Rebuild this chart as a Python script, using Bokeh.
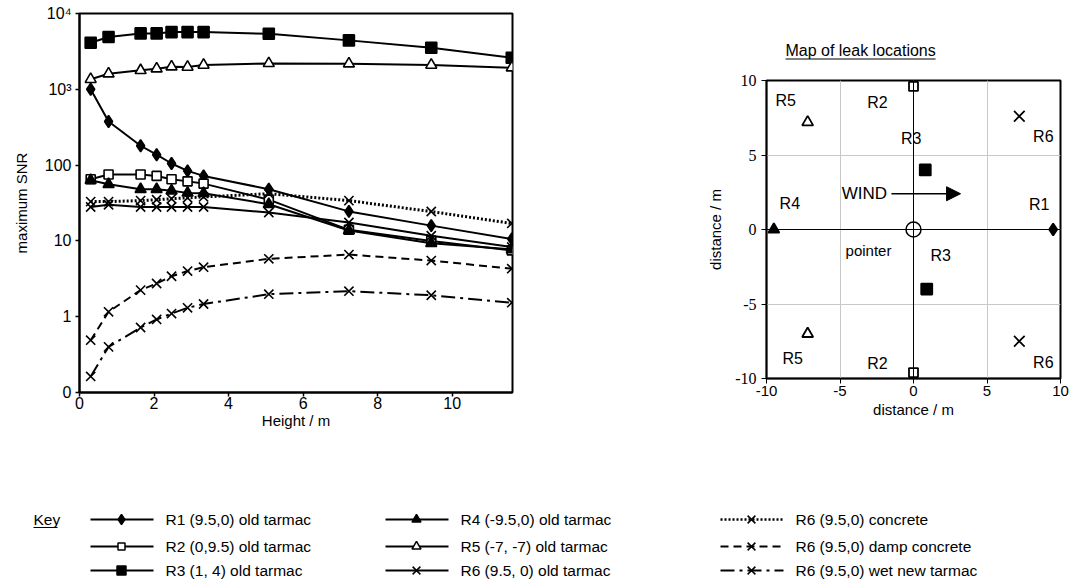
from bokeh.plotting import figure
from bokeh.layouts import row, column
from bokeh.models import Range1d, FixedTicker, Span, Arrow, NormalHead, ColumnDataSource
from bokeh.core.properties import value
from bokeh.embed import file_html
from bokeh.resources import INLINE

FONT = "Liberation Sans"
SERIF = "Liberation Serif"

# ---------------- data: left chart ----------------
height_m = [0.30, 0.78, 1.64, 2.07, 2.47, 2.90, 3.33, 5.08, 7.23, 9.44, 11.6]
r1_old = [1000, 376, 180, 137, 105, 84, 72, 48, 24.5, 15.9, 10.6]
r2_old = [65, 75, 75, 72, 65, 61, 57, 35, 14, 10, 7.5]
r3_old = [4110, 4890, 5460, 5460, 5680, 5680, 5680, 5400, 4420, 3535, 2610]
r4_old = [63, 56, 48, 48, 46, 43, 42.5, 30.5, 13.7, 9.3, 7.7]
r5_old = [1355, 1607, 1778, 1871, 1986, 1967, 2090, 2197, 2176, 2090, 1928]
r6_old = [28, 30, 28, 28, 28, 28, 28, 23.7, 17.5, 11.7, 8.3]
r6_concrete = [33, 33, 34, 35, 36, 37, 38, 42, 34, 24.4, 17]
r6_damp = [0.49, 1.16, 2.24, 2.74, 3.42, 4.0, 4.5, 5.8, 6.6, 5.5, 4.3]
r6_wet = [0.163, 0.40, 0.72, 0.92, 1.1, 1.31, 1.47, 1.98, 2.17, 1.92, 1.53]

x_ticks = [0, 2, 4, 6, 8, 10]
y_ticks = [0.1, 1, 10, 100, 1000, 10000]
y_tick_labels = ["0", "1", "10", "100", "10\u00b3", "10\u2074"]

series_labels = ["R1 (9.5,0) old tarmac", "R2 (0,9.5) old tarmac", "R3 (1, 4)  old tarmac",
                 "R4 (-9.5,0) old tarmac", "R5 (-7, -7)  old tarmac", "R6 (9.5, 0) old tarmac",
                 "R6 (9.5,0) concrete", "R6 (9.5,0) damp concrete", "R6 (9.5,0) wet new tarmac"]
series_values = [r1_old, r2_old, r3_old, r4_old, r5_old, r6_old, r6_concrete, r6_damp, r6_wet]

# ---------------- data: map ----------------
map_x = [9.5, 0, 0, 0.8, 0.9, -9.5, -7.2, -7.2, 7.2, 7.2]
map_y = [0, 9.6, -9.6, 4, -4.0, 0, 7.2, -7.0, 7.6, -7.5]
map_names = ["R1", "R2", "R2", "R3", "R3", "R4", "R5", "R5", "R6", "R6"]
map_ticks = [-10, -5, 0, 5, 10]
map_tick_labels = ["-10", "-5", "0", "5", "10"]

# ---------------- styles ----------------
styles = {
    "R1": dict(marker="diamond", fill="black", size=12),
    "R2": dict(marker="square", fill="white", size=9),
    "R3": dict(marker="square", fill="black", size=11),
    "R4": dict(marker="triangle", fill="black", size=11),
    "R5": dict(marker="triangle", fill="white", size=11),
    "R6": dict(marker="x", fill="black", size=13),
}
series_keys = ["R1", "R2", "R3", "R4", "R5", "R6", "R6", "R6", "R6"]
series_dash = ["solid"] * 6 + ["2 2", "8 5", "14 5 3 5"]
series_lw = [2] * 6 + [3, 2, 2]

# ---------------- left chart ----------------
p1 = figure(frame_width=433, frame_height=379, y_axis_type="log", output_backend="svg", title=None,
            toolbar_location=None, x_range=Range1d(0, 11.62), y_range=Range1d(0.1, 10000),
            min_border_left=79, min_border_right=8, min_border_top=13, min_border_bottom=40)
p1.outline_line_color = "black"
p1.outline_line_width = 2
p1.grid.visible = False
for ax in (p1.xaxis[0], p1.yaxis[0]):
    ax.axis_line_width = 2
    ax.major_tick_line_width = 1.5
    ax.major_tick_out = 4
    ax.major_tick_in = 0
    ax.minor_tick_line_color = None
    ax.major_label_text_font = FONT
    ax.major_label_text_font_size = "16px"
    ax.major_label_text_color = "black"
    ax.axis_label_text_font = FONT
    ax.axis_label_text_font_size = "15px"
    ax.axis_label_text_font_style = "normal"
    ax.axis_label_text_color = "black"
p1.xaxis.ticker = FixedTicker(ticks=x_ticks)
p1.yaxis.ticker = FixedTicker(ticks=y_ticks)
p1.yaxis.major_label_overrides = {t: l for t, l in zip(y_ticks, y_tick_labels)}
p1.xaxis.axis_label = "Height / m"
p1.yaxis.axis_label = "maximum SNR"
p1.xaxis.axis_label_standoff = 0
p1.yaxis.axis_label_standoff = 12
p1.xaxis.major_label_standoff = 0
p1.yaxis.major_label_standoff = 4

for key, vals, dash, lw in zip(series_keys, series_values, series_dash, series_lw):
    st = styles[key]
    src = ColumnDataSource(dict(x=height_m, y=vals))
    p1.line("x", "y", source=src, line_color="black", line_width=lw, line_dash=dash)
    p1.scatter("x", "y", source=src, marker=st["marker"], size=st["size"],
               fill_color=st["fill"], line_color="black", line_width=1.6)

# ---------------- map title (frame aligned with the map below) ----------------
p2t = figure(width=564, height=62, output_backend="svg", toolbar_location=None, title=None,
             x_range=Range1d(-10, 10), y_range=Range1d(62, 0),
             x_axis_location=None, y_axis_location=None, min_border=0)
p2t.outline_line_color = None
p2t.grid.visible = False
title_text = "Map of leak locations"
title_cx = -3.6
title_half = 5.1
p2t.text(x=[title_cx], y=[50], text=[title_text], text_font=value(FONT), text_font_size="16px",
         text_align="center", text_baseline="middle", text_color="black")
p2t.segment(x0=[title_cx - title_half], y0=[58.5], x1=[title_cx + title_half], y1=[58.5],
            line_color="black", line_width=1)

# ---------------- map ----------------
p2 = figure(frame_width=294, frame_height=298, output_backend="svg", toolbar_location=None, title=None,
            x_range=Range1d(-10, 10), y_range=Range1d(-10, 10),
            min_border_left=246, min_border_right=24, min_border_top=18, min_border_bottom=54)
p2.outline_line_color = "black"
p2.outline_line_width = 2
for ax in (p2.xaxis[0], p2.yaxis[0]):
    ax.ticker = FixedTicker(ticks=map_ticks)
    ax.major_label_overrides = {t: l for t, l in zip(map_ticks, map_tick_labels)}
    ax.axis_line_width = 1.5
    ax.major_tick_out = 5
    ax.major_tick_in = 0
    ax.minor_tick_line_color = None
    ax.major_label_text_font_size = "15px"
    ax.major_label_text_color = "black"
    ax.axis_label_text_font = FONT
    ax.axis_label_text_font_size = "15px"
    ax.axis_label_text_font_style = "normal"
    ax.axis_label_text_color = "black"
    ax.axis_label = "distance / m"
p2.xaxis.major_label_text_font = FONT
p2.yaxis.major_label_text_font = SERIF
p2.yaxis.major_label_text_font_size = "16px"
p2.xaxis.axis_label_standoff = 2
p2.yaxis.axis_label_standoff = 8
p2.xaxis.major_label_standoff = 2
p2.grid.ticker = FixedTicker(ticks=map_ticks)
p2.grid.grid_line_color = "#c8c8c8"
p2.grid.grid_line_width = 1
p2.add_layout(Span(location=0, dimension="width", line_color="black", line_width=1))
p2.add_layout(Span(location=0, dimension="height", line_color="black", line_width=1))

label_dx = {"R1": [-14], "R2": [-36, -36], "R3": [-14, 14], "R4": [16], "R5": [-22, -15], "R6": [24, 24]}
label_dy = {"R1": [-25], "R2": [16, -9], "R3": [-31, -34], "R4": [-26], "R5": [-22, 25], "R6": [20, 21]}
seen = {}
mdx, mdy = [], []
for n in map_names:
    i = seen.get(n, 0)
    seen[n] = i + 1
    mdx.append(label_dx[n][i])
    mdy.append(label_dy[n][i])
msrc = ColumnDataSource(dict(
    x=map_x, y=map_y, name=map_names,
    marker=[styles[n]["marker"] for n in map_names],
    fill=[styles[n]["fill"] for n in map_names],
    size=[styles[n]["size"] + (2 if n == "R6" else 0) for n in map_names],
    dx=mdx, dy=mdy))
p2.scatter("x", "y", source=msrc, marker="marker", size="size", fill_color="fill",
           line_color="black", line_width=1.8)
p2.text("x", "y", text="name", source=msrc, x_offset="dx", y_offset="dy",
        text_font=value(FONT), text_font_size="16px", text_align="center",
        text_baseline="middle", text_color="black")
# pointer
p2.scatter([0], [0], marker="circle", size=15, fill_color="white", line_color="black", line_width=1.5)
p2.text([0], [0], text=["pointer"], x_offset=-45, y_offset=21, text_font=value(FONT),
        text_font_size="15px", text_align="center", text_baseline="middle", text_color="black")
# wind
p2.text([-1.8], [2.4], text=["WIND"], text_font=value(FONT), text_font_size="17px",
        text_align="right", text_baseline="middle", text_color="black")
p2.add_layout(Arrow(x_start=-1.5, y_start=2.4, x_end=3.2, y_end=2.4, line_width=1.5,
                    end=NormalHead(size=14, fill_color="black", line_color="black")))

# ---------------- legend ----------------
p3 = figure(width=1084, height=149, output_backend="svg", toolbar_location=None, title=None,
            x_range=Range1d(0, 1084), y_range=Range1d(581, 432),
            x_axis_location=None, y_axis_location=None, min_border=0)
p3.outline_line_color = None
p3.grid.visible = False
col_x = [90, 385, 720]
row_y = [519, 546, 570]
p3.text([33], [row_y[0]], text=["Key"], text_font=value(FONT), text_font_size="15.5px",
        text_align="left", text_baseline="middle", text_color="black")
p3.segment([33], [row_y[0] + 8], [57], [row_y[0] + 8], line_color="black", line_width=1)
for i, (key, lab, dash, lw) in enumerate(zip(series_keys, series_labels, series_dash, series_lw)):
    c, r = divmod(i, 3)
    x0 = col_x[c]
    y0 = row_y[r]
    st = styles[key]
    p3.line([x0, x0 + 63], [y0, y0], line_color="black", line_width=lw if lw < 3 else 2.5, line_dash=dash)
    p3.scatter([x0 + 31], [y0], marker=st["marker"], size=st["size"] - 2, fill_color=st["fill"],
               line_color="black", line_width=1.5)
    p3.text([x0 + 75], [y0], text=[lab], text_font=value(FONT), text_font_size="15.5px",
            text_align="left", text_baseline="middle", text_color="black")

layout = column(row(p1, column(p2t, p2)), p3)
open("out.html", "w").write(file_html(layout, INLINE))
